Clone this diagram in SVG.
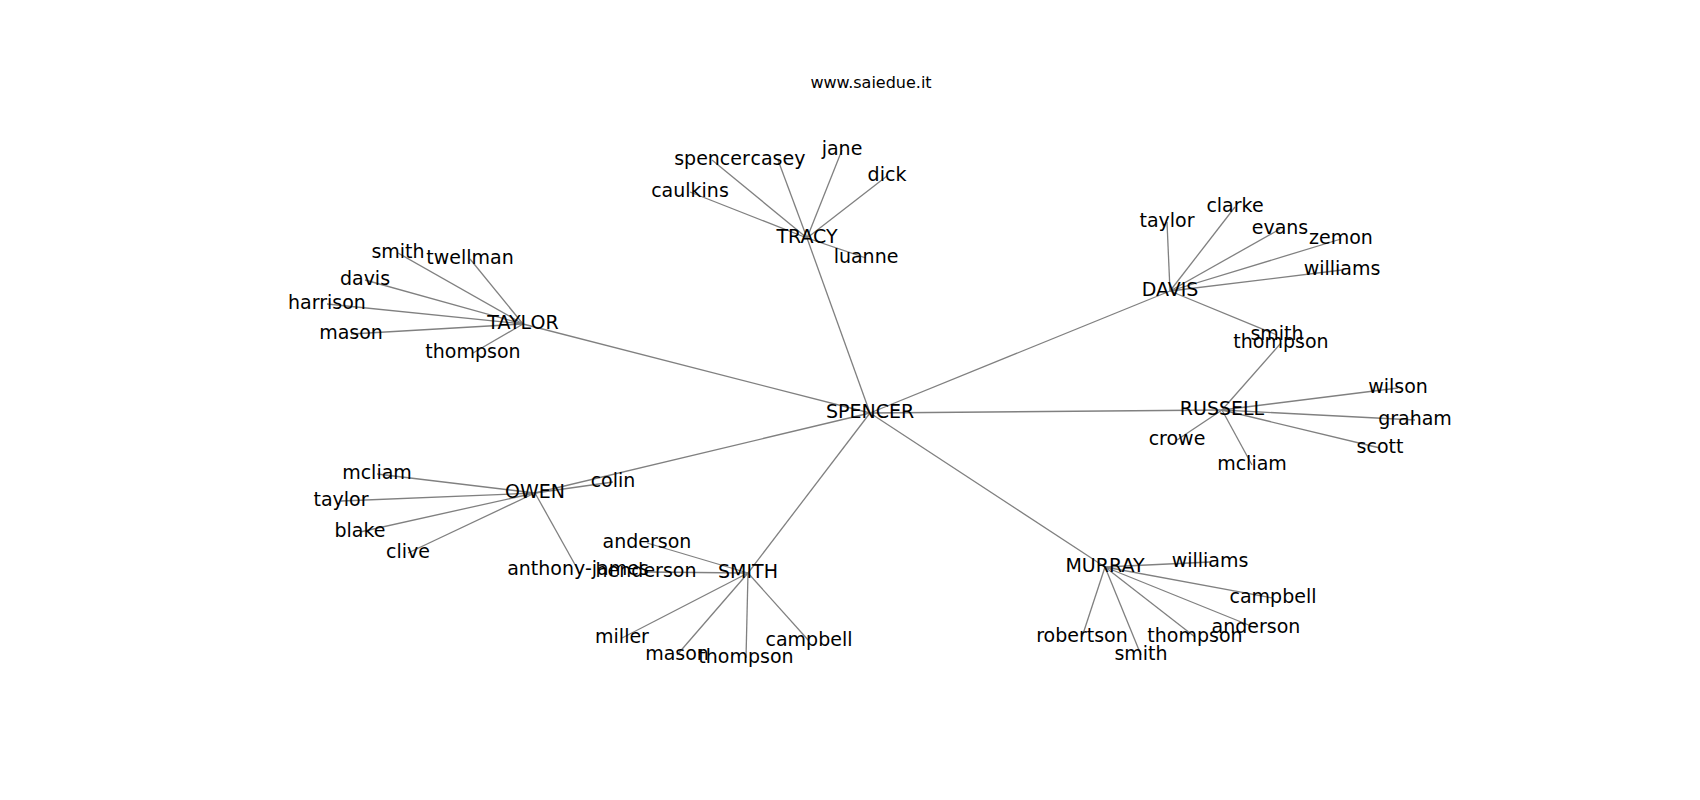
<svg xmlns="http://www.w3.org/2000/svg" width="1700" height="800" viewBox="0 0 1700 800">
<style>
.e line{stroke:#808080;stroke-width:1.3}
text{font-family:"DejaVu Sans","Liberation Sans",sans-serif;font-size:19px;fill:#000;text-anchor:middle}
.t{font-size:16px}
</style>
<rect width="1700" height="800" fill="#fff"/>
<text class="t" x="871" y="88">www.saiedue.it</text>
<g id="edges" class="e">
<line x1="870" y1="413" x2="807" y2="238"/>
<line x1="870" y1="413" x2="523" y2="324"/>
<line x1="870" y1="413" x2="1170" y2="291"/>
<line x1="870" y1="413" x2="1222" y2="410"/>
<line x1="870" y1="413" x2="535" y2="493"/>
<line x1="870" y1="413" x2="748" y2="573"/>
<line x1="870" y1="413" x2="1105" y2="567"/>
<line x1="807" y1="238" x2="712" y2="160"/>
<line x1="807" y1="238" x2="778" y2="160"/>
<line x1="807" y1="238" x2="842" y2="150"/>
<line x1="807" y1="238" x2="887" y2="176"/>
<line x1="807" y1="238" x2="690" y2="192"/>
<line x1="807" y1="238" x2="866" y2="258"/>
<line x1="523" y1="324" x2="398" y2="253"/>
<line x1="523" y1="324" x2="470" y2="259"/>
<line x1="523" y1="324" x2="365" y2="280"/>
<line x1="523" y1="324" x2="327" y2="304"/>
<line x1="523" y1="324" x2="351" y2="334"/>
<line x1="523" y1="324" x2="473" y2="353"/>
<line x1="1170" y1="291" x2="1167" y2="222"/>
<line x1="1170" y1="291" x2="1235" y2="207"/>
<line x1="1170" y1="291" x2="1280" y2="229"/>
<line x1="1170" y1="291" x2="1341" y2="239"/>
<line x1="1170" y1="291" x2="1342" y2="270"/>
<line x1="1170" y1="291" x2="1277" y2="335"/>
<line x1="1222" y1="410" x2="1281" y2="343"/>
<line x1="1222" y1="410" x2="1398" y2="388"/>
<line x1="1222" y1="410" x2="1415" y2="420"/>
<line x1="1222" y1="410" x2="1380" y2="448"/>
<line x1="1222" y1="410" x2="1177" y2="440"/>
<line x1="1222" y1="410" x2="1252" y2="465"/>
<line x1="535" y1="493" x2="377" y2="474"/>
<line x1="535" y1="493" x2="341" y2="501"/>
<line x1="535" y1="493" x2="360" y2="532"/>
<line x1="535" y1="493" x2="408" y2="553"/>
<line x1="535" y1="493" x2="613" y2="482"/>
<line x1="535" y1="493" x2="578" y2="570"/>
<line x1="748" y1="573" x2="647" y2="543"/>
<line x1="748" y1="573" x2="646" y2="572"/>
<line x1="748" y1="573" x2="622" y2="638"/>
<line x1="748" y1="573" x2="677" y2="655"/>
<line x1="748" y1="573" x2="746" y2="658"/>
<line x1="748" y1="573" x2="809" y2="641"/>
<line x1="1105" y1="567" x2="1210" y2="562"/>
<line x1="1105" y1="567" x2="1273" y2="598"/>
<line x1="1105" y1="567" x2="1256" y2="628"/>
<line x1="1105" y1="567" x2="1195" y2="637"/>
<line x1="1105" y1="567" x2="1141" y2="655"/>
<line x1="1105" y1="567" x2="1082" y2="637"/>
</g>
<g id="n-spencer"><text x="870" y="418">SPENCER</text></g>
<g id="n-tracy"><text x="807" y="243">TRACY</text></g>
<g id="n-tracy-spencer"><text x="712" y="165">spencer</text></g>
<g id="n-tracy-casey"><text x="778" y="165">casey</text></g>
<g id="n-tracy-jane"><text x="842" y="155">jane</text></g>
<g id="n-tracy-dick"><text x="887" y="181">dick</text></g>
<g id="n-tracy-caulkins"><text x="690" y="197">caulkins</text></g>
<g id="n-tracy-luanne"><text x="866" y="263">luanne</text></g>
<g id="n-taylor"><text x="523" y="329">TAYLOR</text></g>
<g id="n-taylor-smith"><text x="398" y="258">smith</text></g>
<g id="n-taylor-twellman"><text x="470" y="264">twellman</text></g>
<g id="n-taylor-davis"><text x="365" y="285">davis</text></g>
<g id="n-taylor-harrison"><text x="327" y="309">harrison</text></g>
<g id="n-taylor-mason"><text x="351" y="339">mason</text></g>
<g id="n-taylor-thompson"><text x="473" y="358">thompson</text></g>
<g id="n-davis"><text x="1170" y="296">DAVIS</text></g>
<g id="n-davis-taylor"><text x="1167" y="227">taylor</text></g>
<g id="n-davis-clarke"><text x="1235" y="212">clarke</text></g>
<g id="n-davis-evans"><text x="1280" y="234">evans</text></g>
<g id="n-davis-zemon"><text x="1341" y="244">zemon</text></g>
<g id="n-davis-williams"><text x="1342" y="275">williams</text></g>
<g id="n-davis-smith"><text x="1277" y="340">smith</text></g>
<g id="n-russell"><text x="1222" y="415">RUSSELL</text></g>
<g id="n-russell-thompson"><text x="1281" y="348">thompson</text></g>
<g id="n-russell-wilson"><text x="1398" y="393">wilson</text></g>
<g id="n-russell-graham"><text x="1415" y="425">graham</text></g>
<g id="n-russell-scott"><text x="1380" y="453">scott</text></g>
<g id="n-russell-crowe"><text x="1177" y="445">crowe</text></g>
<g id="n-russell-mcliam"><text x="1252" y="470">mcliam</text></g>
<g id="n-owen"><text x="535" y="498">OWEN</text></g>
<g id="n-owen-mcliam"><text x="377" y="479">mcliam</text></g>
<g id="n-owen-taylor"><text x="341" y="506">taylor</text></g>
<g id="n-owen-blake"><text x="360" y="537">blake</text></g>
<g id="n-owen-clive"><text x="408" y="558">clive</text></g>
<g id="n-owen-colin"><text x="613" y="487">colin</text></g>
<g id="n-owen-anthony-james"><text x="578" y="575">anthony-james</text></g>
<g id="n-smith"><text x="748" y="578">SMITH</text></g>
<g id="n-smith-anderson"><text x="647" y="548">anderson</text></g>
<g id="n-smith-henderson"><text x="646" y="577">henderson</text></g>
<g id="n-smith-miller"><text x="622" y="643">miller</text></g>
<g id="n-smith-mason"><text x="677" y="660">mason</text></g>
<g id="n-smith-thompson"><text x="746" y="663">thompson</text></g>
<g id="n-smith-campbell"><text x="809" y="646">campbell</text></g>
<g id="n-murray"><text x="1105" y="572">MURRAY</text></g>
<g id="n-murray-williams"><text x="1210" y="567">williams</text></g>
<g id="n-murray-campbell"><text x="1273" y="603">campbell</text></g>
<g id="n-murray-anderson"><text x="1256" y="633">anderson</text></g>
<g id="n-murray-thompson"><text x="1195" y="642">thompson</text></g>
<g id="n-murray-smith"><text x="1141" y="660">smith</text></g>
<g id="n-murray-robertson"><text x="1082" y="642">robertson</text></g>
</svg>
